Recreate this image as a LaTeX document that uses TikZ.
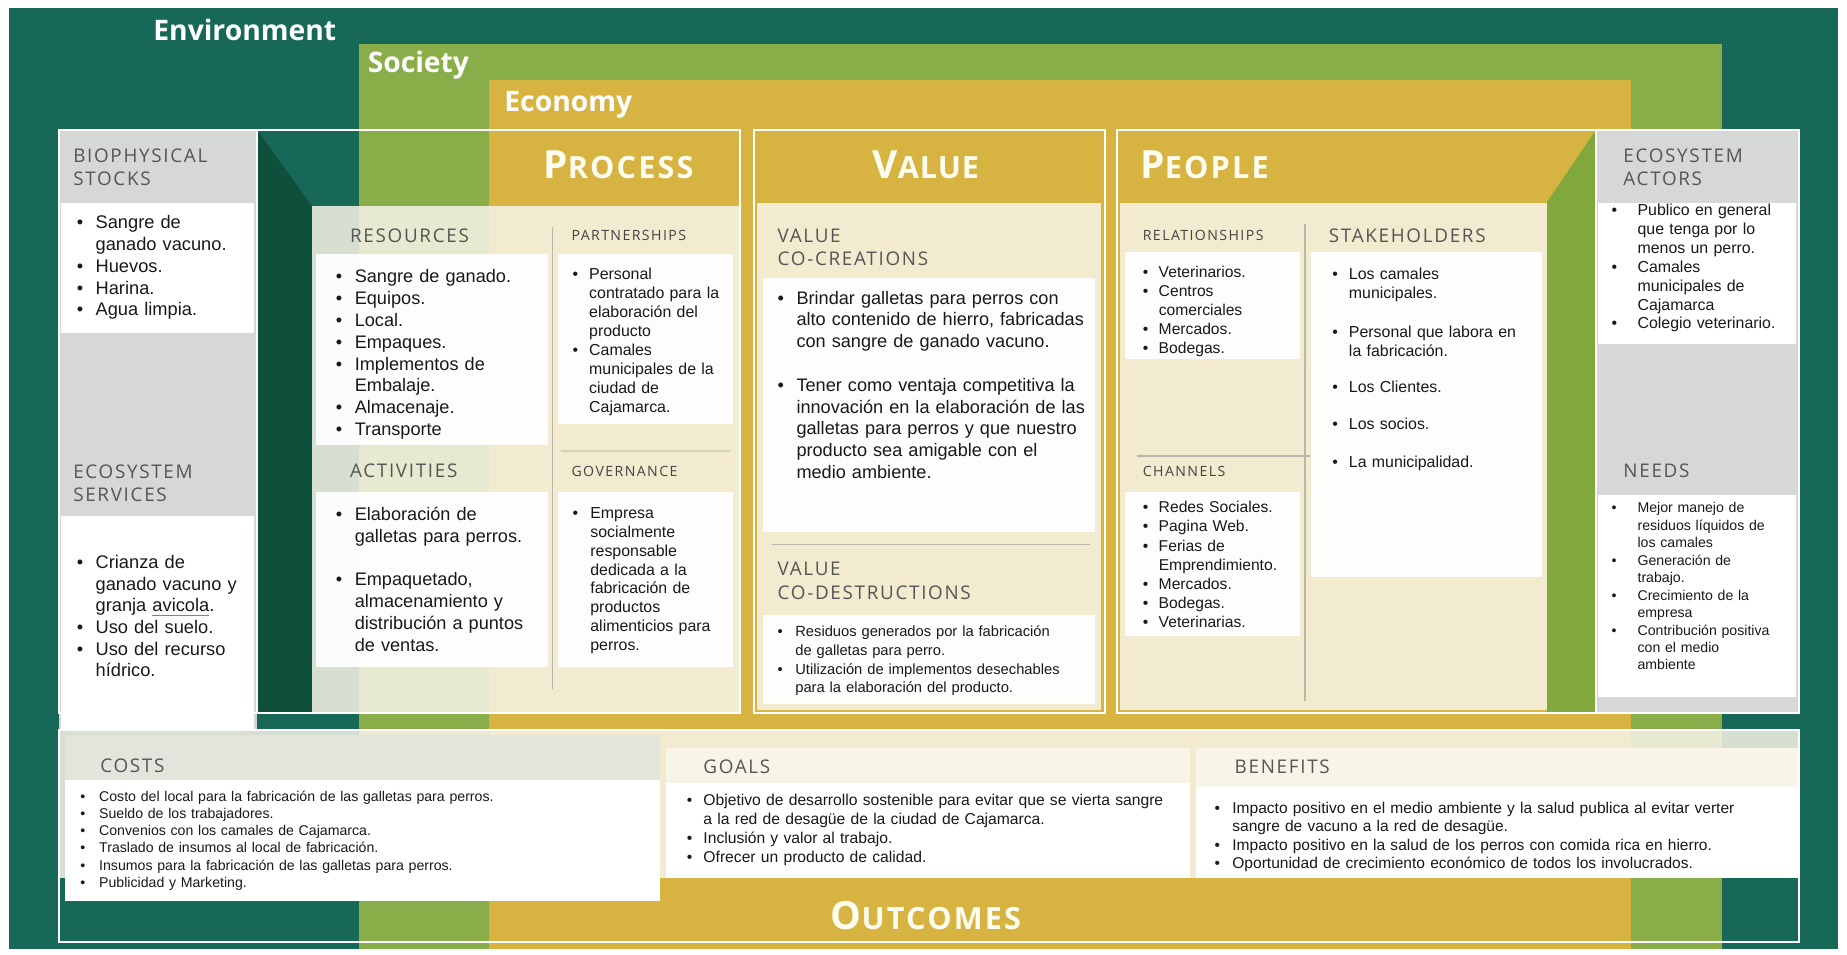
\documentclass[tikz,border=0pt]{standalone}
\usepackage{fontspec}
\setmainfont{Liberation Sans}
\newfontfamily\hdfont{Open Sans}[LetterSpace=9]
\newfontfamily\hdsmall{Open Sans}[LetterSpace=10]
\newfontfamily\bigfont{Open Sans}[LetterSpace=7]
\newfontfamily\bigfontv{Open Sans}[LetterSpace=3]
\newfontfamily\titlefont{Open Sans}
\definecolor{env}{RGB}{23,104,86}
\definecolor{soc}{RGB}{137,173,72}
\definecolor{eco}{RGB}{215,180,66}
\definecolor{bevdark}{RGB}{15,80,60}
\definecolor{bevgreen}{RGB}{128,168,60}
\definecolor{greyhd}{RGB}{213,216,212}
\definecolor{cream}{RGB}{248,245,232}
\definecolor{hdtext}{RGB}{85,85,85}
\definecolor{bodytext}{RGB}{25,25,25}
\definecolor{divline}{RGB}{185,183,170}
\definecolor{titlewhite}{RGB}{255,252,240}
\newlength\bw
\newcommand\bi[1]{\par\hangindent=\bw\hangafter=1\noindent\hbox to\bw{\textbullet\hfil}#1}
\newcommand\nl{\hfil\break}
\newcommand\gap[1]{\par\vskip#1\relax}
\newcommand\fsz[2]{\fontsize{#1}{#2}\selectfont}
\newcommand\wav[1]{\setbox0\hbox{#1}\rlap{\color{red!60!pink}\rule[-3pt]{\wd0}{0.7pt}}#1}
\newcommand\sco[2]{{\fontsize{33}{33}\selectfont #1}{\fontsize{26}{26}\selectfont #2}}
\tikzset{
  txt/.style={anchor=north west, inner sep=0pt, align=left, text=bodytext, text width=480pt},
  hd/.style={anchor=west, inner sep=0pt, text=hdtext, font=\hdfont\fsz{16}{20}},
  hdtwo/.style={anchor=north west, inner sep=0pt, align=left, text=hdtext, font=\hdfont\fsz{16}{20}},
  hds/.style={anchor=west, inner sep=0pt, text=hdtext!80!black, font=\hdsmall\fsz{12}{14}},
  big/.style={inner sep=0pt, text=titlewhite, font=\bigfont\bfseries},
  lbl/.style={anchor=west, inner sep=0pt, text=white, font=\titlefont\bfseries\fsz{24}{28}},
  frame/.style={draw=white, line width=1.6pt},
  divider/.style={draw=divline, line width=1.2pt},
  panel/.style={fill=cream, fill opacity=0.85},
  wbox/.style={fill=white, fill opacity=0.92},
}
\begin{document}
\begin{tikzpicture}[x=1pt,y=-1pt]
\useasboundingbox (0,0) rectangle (1568,810);
\fill[white] (0,0) rectangle (1568,810);
% nested bands
\fill[env] (8,7) rectangle (1560,806);
\fill[soc] (305,37) rectangle (1462,806);
\fill[eco] (415,68) rectangle (1385,806);
\node[lbl] (envl) at (130,25) {Environment};
\node[lbl] (socl) at (312,55) {Society};
\node[lbl] (ecol) at (428,89) {Economy};

% ---------- left column: biophysical / ecosystem services
\fill[greyhd] (50,110) rectangle (218,620);
\fill[white] (52,172) rectangle (216,283);
\fill[white] (52,438) rectangle (216,620);
\node[hdtwo] (bioh) at (62,126) {BIOPHYSICAL\\STOCKS};
\node[txt, font=\fsz{15.5}{18.5}] (biot) at (65,175.5) {\bw=16pt
\bi{Sangre de\nl ganado vacuno.}\bi{Huevos.}\bi{Harina.}\bi{Agua limpia.}\par};
\node[hdtwo] (esh) at (62,394) {ECOSYSTEM\\SERVICES};
\node[txt, font=\fsz{15.5}{18.4}] (est) at (65,464) {\bw=16pt
\bi{Crianza de\nl ganado vacuno y\nl granja \wav{avicola}.}\bi{Uso del suelo.}\bi{Uso del recurso\nl hídrico.}\par};

% ---------- process
\fill[bevdark] (218,110) -- (265,175) -- (265,605) -- (218,605) -- cycle;
\fill[panel] (265,175) rectangle (628,605);
\fill[wbox] (268,216) rectangle (465,378);
\fill[wbox] (268,418) rectangle (465,566);
\fill[wbox] (474,216) rectangle (622,360);
\fill[wbox] (474,418) rectangle (622,566);
\draw[divider] (469,193) -- (469,585);
\draw[divider, draw opacity=0.5] (476,383) -- (620,383);
\node[big, anchor=center] (proct) at (525,140) {\sco{P}{ROCESS}};
\node[hd] (resh) at (297,200) {RESOURCES};
\node[txt, font=\fsz{15.4}{18.5}] (rest) at (285,221.5) {\bw=16pt
\bi{Sangre de ganado.}\bi{Equipos.}\bi{Local.}\bi{Empaques.}\bi{Implementos de\nl Embalaje.}\bi{Almacenaje.}\bi{Transporte}\par};
\node[hd] (acth) at (297,400) {ACTIVITIES};
\node[txt, font=\fsz{15.4}{18.5}] (actt) at (285,423) {\bw=16pt
\bi{Elaboración de\nl galletas para perros.}\gap{18.5pt}\bi{Empaquetado,\nl almacenamiento y\nl distribución a puntos\nl de ventas.}\par};
\node[hds] (parh) at (485,200) {PARTNERSHIPS};
\node[txt, font=\fsz{13.5}{16.1}] (part) at (486,221) {\bw=14pt
\bi{Personal\nl contratado para la\nl elaboración del\nl producto}\bi{Camales\nl municipales de la\nl ciudad de\nl Cajamarca.}\par};
\node[hds] (govh) at (485,400) {GOVERNANCE};
\node[txt, font=\fsz{13.5}{16}] (govt) at (486,424) {\bw=15pt
\bi{Empresa\nl socialmente\nl responsable\nl dedicada a la\nl fabricación de\nl productos\nl alimenticios para\nl perros.}\par};
\draw[frame] (50,110) rectangle (628,605);
\draw[frame] (218,110) -- (218,605);

% ---------- value
\fill[panel] (643,172) rectangle (935,603);
\fill[wbox] (648,236) rectangle (930,452);
\fill[wbox] (648,522) rectangle (930,598);
\draw[divider] (655,462) -- (925,462);
\node[big, anchor=center, font=\bigfontv\bfseries] (valt) at (786,140) {\sco{V}{ALUE}};
\node[hdtwo] (vcch) at (660,194) {VALUE\\CO-CREATIONS};
\node[txt, font=\fsz{15.4}{18.5}] (vcct) at (660,239.5) {\bw=16pt
\bi{Brindar galletas para perros con\nl alto contenido de hierro, fabricadas\nl con sangre de ganado vacuno.}\gap{18.5pt}\bi{Tener como ventaja competitiva la\nl innovación en la elaboración de las\nl galletas para perros y que nuestro\nl producto sea amigable con el\nl medio ambiente.}\par};
\node[hdtwo] (vcdh) at (660,477) {VALUE\\CO-DESTRUCTIONS};
\node[txt, font=\fsz{12.5}{16}] (vcdt) at (660,524) {\bw=15pt
\bi{Residuos generados por la fabricación\nl de galletas para perro.}\bi{Utilización de implementos desechables\nl para la elaboración del producto.}\par};
\draw[frame] (640,110) rectangle (938,605);

% ---------- people
\fill[bevgreen] (1355,110) -- (1313,172) -- (1313,605) -- (1355,605) -- cycle;
\fill[panel] (951,172) rectangle (1313,603);
\fill[wbox] (955,214) rectangle (1104,305);
\fill[wbox] (955,418) rectangle (1104,540);
\fill[wbox] (1113,214) rectangle (1309,490);
\draw[divider] (1108,190) -- (1108,595);
\draw[divider] (965,387) -- (1112,387);
\node[big, anchor=west] (peot) at (968,140) {\sco{P}{EOPLE}};
\node[hds] (relh) at (970,200) {RELATIONSHIPS};
\node[txt, font=\fsz{13.3}{16.2}] (relt) at (970,219) {\bw=13.5pt
\bi{Veterinarios.}\bi{Centros\nl comerciales}\bi{Mercados.}\bi{Bodegas.}\par};
\node[hds] (chah) at (970,400) {CHANNELS};
\node[txt, font=\fsz{13.3}{16.2}] (chat) at (970,419) {\bw=13.5pt
\bi{Redes Sociales.}\bi{Pagina Web.}\bi{Ferias de\nl Emprendimiento.}\bi{Mercados.}\bi{Bodegas.}\bi{Veterinarias.}\par};
\node[hd] (stah) at (1128,200) {STAKEHOLDERS};
\node[txt, font=\fsz{13.5}{16.2}] (stat) at (1131,221) {\bw=14pt
\bi{Los camales\nl municipales.}\gap{16.5pt}\bi{Personal que labora en\nl la fabricación.}\gap{14.8pt}\bi{Los Clientes.}\gap{14.8pt}\bi{Los socios.}\gap{16.5pt}\bi{La municipalidad.}\par};

% ---------- right column: ecosystem actors / needs
\fill[greyhd] (1355,110) rectangle (1527,605);
\fill[white] (1357,172) rectangle (1525,292);
\fill[white] (1357,420) rectangle (1525,592);
\node[hdtwo] (eah) at (1378,126) {ECOSYSTEM\\ACTORS};
\node[txt, font=\fsz{13.5}{16}] (eat) at (1368,167) {\bw=22pt
\bi{Publico en general\nl que tenga por lo\nl menos un perro.}\bi{Camales\nl municipales de\nl Cajamarca}\bi{Colegio veterinario.}\par};
\node[hd] (neeh) at (1378,400) {NEEDS};
\node[txt, font=\fsz{12}{14.8}] (neet) at (1368,420.5) {\bw=22pt
\bi{Mejor manejo de\nl residuos líquidos de\nl los camales}\bi{Generación de\nl trabajo.}\bi{Crecimiento de la\nl empresa}\bi{Contribución positiva\nl con el medio\nl ambiente}\par};
\draw[frame] (948,110) rectangle (1527,605);
\draw[frame] (1355,110) -- (1355,605);

% ---------- outcomes
\fill[panel] (50,620) rectangle (1527,745);
\fill[greyhd!60!cream] (55,624) rectangle (560,662);
\fill[white] (55,662) rectangle (560,765);
\fill[cream] (565,635) rectangle (1010,665);
\fill[white] (565,665) rectangle (1010,745);
\fill[cream] (1015,635) rectangle (1527,668);
\fill[white] (1015,668) rectangle (1527,745);
\node[hd] (cosh) at (85,650) {COSTS};
\node[txt, font=\fsz{12}{14.6}] (cost) at (68,665.5) {\bw=16pt
\bi{Costo del local para la fabricación de las galletas para perros.}\bi{Sueldo de los trabajadores.}\bi{Convenios con los camales de Cajamarca.}\bi{Traslado de insumos al local de fabricación.}\bi{Insumos para la fabricación de las galletas para perros.}\bi{Publicidad y Marketing.}\par};
\node[hd] (goah) at (597,651) {GOALS};
\node[txt, font=\fsz{13.3}{16}] (goat) at (583,668) {\bw=14pt
\bi{Objetivo de desarrollo sostenible para evitar que se vierta sangre\nl a la red de desagüe de la ciudad de Cajamarca.}\bi{Inclusión y valor al trabajo.}\bi{Ofrecer un producto de calidad.}\par};
\node[hd] (benh) at (1048,651) {BENEFITS};
\node[txt, font=\fsz{13.2}{15.5}] (bent) at (1031,675) {\bw=15pt
\bi{Impacto positivo en el medio ambiente y la salud publica al evitar verter\nl sangre de vacuno a la red de desagüe.}\bi{Impacto positivo en la salud de los perros con comida rica en hierro.}\bi{Oportunidad de crecimiento económico de todos los involucrados.}\par};
\node[big, anchor=center] (outt) at (786,777) {\sco{O}{UTCOMES}};
\draw[frame] (50,620) rectangle (1527,800);
\end{tikzpicture}
\end{document}
